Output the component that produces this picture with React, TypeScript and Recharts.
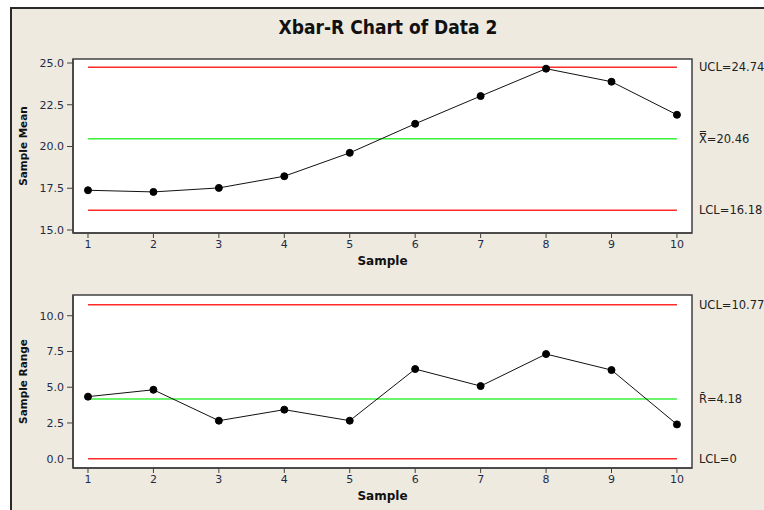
import React from "react";
import {
  LineChart,
  Line,
  XAxis,
  YAxis,
  CartesianGrid,
  ReferenceLine,
  ReferenceArea,
} from "recharts";

const samples = [1, 2, 3, 4, 5, 6, 7, 8, 9, 10];
const sampleMeans = [17.38, 17.28, 17.52, 18.22, 19.62, 21.36, 23.02, 24.66, 23.88, 21.9];
const sampleRanges = [4.34, 4.82, 2.66, 3.43, 2.66, 6.27, 5.08, 7.32, 6.2, 2.4];

const meanTicks = [15, 17.5, 20, 22.5, 25];
const rangeTicks = [0, 2.5, 5, 7.5, 10];

// UCL, center line, LCL
const meanLimits = [24.74, 20.46, 16.18];
const meanLimitLabels = ["UCL=24.74", "X\u033F=20.46", "LCL=16.18"];
const rangeLimits = [10.77, 4.18, 0];
const rangeLimitLabels = ["UCL=10.77", "R\u0304=4.18", "LCL=0"];

const LIMIT_COLORS = ["#ff2a2a", "#3cf03c", "#ff2a2a"];
const TICK_COLOR = "#1f2b47";
const FONT = "'DejaVu Sans', sans-serif";
const X_DOMAIN = [0.771, 10.23];

const meanData = samples.map((s, i) => ({ sample: s, value: sampleMeans[i] }));
const rangeData = samples.map((s, i) => ({ sample: s, value: sampleRanges[i] }));

const tickStyle = { fill: TICK_COLOR, fontSize: 11, fontFamily: FONT };

function ControlChart({
  data,
  domain,
  ticks,
  limits,
  limitLabels,
  yLabel,
  top,
  height,
  marginTop,
  marginBottom,
}: any) {
  return (
    <div style={{ position: "absolute", left: 0, top, width: 764, height }}>
      <LineChart
        width={764}
        height={height}
        data={data}
        margin={{ top: marginTop, right: 72, bottom: marginBottom, left: 11 }}
      >
        <CartesianGrid fill="#ffffff" horizontal={false} vertical={false} />
        <XAxis
          dataKey="sample"
          type="number"
          domain={X_DOMAIN}
          ticks={samples}
          allowDataOverflow
          height={36}
          tick={tickStyle}
          tickSize={5}
          tickMargin={2}
          stroke="#404040"
          axisLine={{ stroke: "#404040", strokeWidth: 1.5 }}
          label={{
            value: "Sample",
            position: "insideBottom",
            offset: 4,
            fill: "#111",
            fontSize: 12,
            fontWeight: "bold",
            fontFamily: FONT,
          }}
        />
        <YAxis
          type="number"
          domain={domain}
          ticks={ticks}
          allowDataOverflow
          width={62}
          tick={tickStyle}
          tickSize={6}
          tickMargin={3}
          tickFormatter={(v: number) => v.toFixed(1)}
          stroke="#404040"
          axisLine={{ stroke: "#404040", strokeWidth: 1.5 }}
          label={{
            value: yLabel,
            angle: -90,
            position: "insideLeft",
            offset: 12,
            fill: "#111",
            fontSize: 10.5,
            fontWeight: "bold",
            fontFamily: FONT,
            style: { textAnchor: "middle" },
          }}
        />
        <ReferenceArea
          x1={X_DOMAIN[0]}
          x2={X_DOMAIN[1]}
          y1={domain[0]}
          y2={domain[1]}
          fill="none"
          stroke="#404040"
          strokeWidth={1.5}
          ifOverflow="visible"
        />
        {limits.map((v: number, i: number) => (
          <ReferenceLine
            key={i}
            segment={[
              { x: 1, y: v },
              { x: 10, y: v },
            ]}
            stroke={LIMIT_COLORS[i]}
            strokeWidth={1.5}
            label={{
              value: limitLabels[i],
              position: "right",
              offset: 22,
              fill: "#222",
              fontSize: 11.5,
              fontFamily: FONT,
            }}
          />
        ))}
        <Line
          dataKey="value"
          stroke="#111"
          strokeWidth={1}
          dot={{ r: 3.5, fill: "#000", stroke: "#000" }}
          isAnimationActive={false}
        />
      </LineChart>
    </div>
  );
}

export default function App() {
  return (
    <div
      style={{
        position: "absolute",
        left: 0,
        top: 0,
        width: 764,
        height: 510,
        background: "#ffffff",
        overflow: "hidden",
      }}
    >
      <div
        style={{
          position: "absolute",
          left: 10,
          top: 7,
          width: 764,
          height: 510,
          background: "#eeeae0",
          borderLeft: "2px solid #2a2a2a",
          borderTop: "2px solid #2a2a2a",
        }}
      />
      <div
        style={{
          position: "absolute",
          left: 0,
          top: 16,
          width: 776,
          textAlign: "center",
          fontFamily: "'DejaVu Sans Condensed', 'DejaVu Sans', sans-serif",
          fontStretch: "condensed",
          fontWeight: "bold",
          fontSize: 19,
          color: "#111",
        }}
      >
        Xbar-R Chart of Data 2
      </div>
      <ControlChart
        data={meanData}
        domain={[14.82, 25.24]}
        ticks={meanTicks}
        limits={meanLimits}
        limitLabels={meanLimitLabels}
        yLabel="Sample Mean"
        top={40}
        height={230}
        marginTop={19}
        marginBottom={1}
      />
      <ControlChart
        data={rangeData}
        domain={[-0.65, 11.45]}
        ticks={rangeTicks}
        limits={rangeLimits}
        limitLabels={rangeLimitLabels}
        yLabel="Sample Range"
        top={270}
        height={240}
        marginTop={25}
        marginBottom={6}
      />
    </div>
  );
}
